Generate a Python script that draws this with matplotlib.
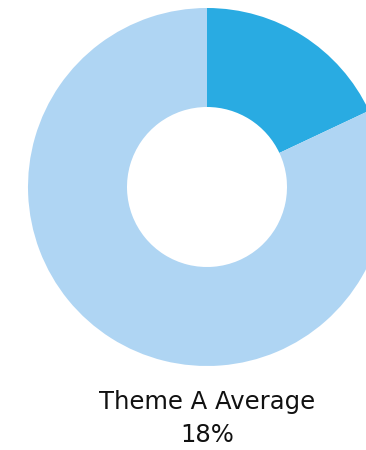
import matplotlib.pyplot as plt

labels = ["Theme A", "Other"]
values = [18, 82]
colors = ["#29ABE2", "#AFD5F3"]
title = "Theme A Average"

fig = plt.figure(figsize=(3.66, 4.5), dpi=100)
ax = fig.add_axes([0, 0, 1, 1])

ax.pie(values, colors=colors, startangle=90, counterclock=False,
       center=(207, 263), radius=179, frame=True,
       wedgeprops=dict(width=99, linewidth=0))
ax.set_xlim(0, 366)
ax.set_ylim(0, 450)
ax.set_aspect("equal")
ax.axis("off")

# two-line caption under the ring
ax.text(207, 41, title, ha="center", va="baseline", fontsize=17.5,
        family="DejaVu Sans", color="#111111")
ax.text(207, 8, "%d%%" % values[0], ha="center", va="baseline", fontsize=17.5,
        family="DejaVu Sans", color="#111111")

fig.savefig("out.png", dpi=100)
